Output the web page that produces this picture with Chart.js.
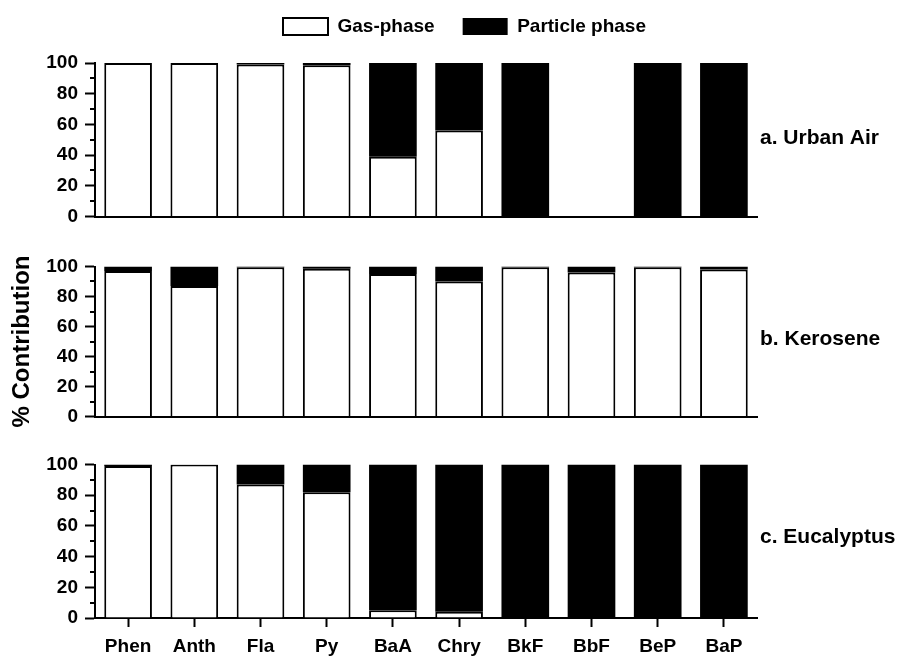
<!DOCTYPE html>
<html>
<head>
<meta charset="utf-8">
<script src="https://cdn.jsdelivr.net/npm/chart.js@4/dist/chart.umd.min.js"></script>
<style>
  html, body { margin: 0; padding: 0; background: #fff; width: 898px; height: 656px; overflow: hidden; position: relative; }
  canvas { position: absolute; left: 0; }
</style>
</head>
<body>
<canvas id="urban"></canvas>
<canvas id="kerosene"></canvas>
<canvas id="eucalyptus"></canvas>
<script>
// PAH compounds along the shared x axis
const compounds = ['Phen', 'Anth', 'Fla', 'Py', 'BaA', 'Chry', 'BkF', 'BbF', 'BeP', 'BaP'];

// Gas / particle split (% contribution) for each source
const urbanGas           = [100, 100, 99, 98.5, 39, 56, 0, null, 0, 0];
const urbanParticle      = [0, 0, 1, 1.5, 61, 44, 100, null, 100, 100];
const keroseneGas        = [97, 87, 99.5, 98.5, 95, 90, 99.5, 96, 99.5, 98];
const keroseneParticle   = [3, 13, 0.5, 1.5, 5, 10, 0.5, 4, 0.5, 2];
const eucalyptusGas      = [99, 100, 87, 82, 5, 4, 0, 0, 0, 0];
const eucalyptusParticle = [1, 0, 13, 18, 95, 96, 100, 100, 100, 100];

// Axis ticks
const yTicks = [0, 20, 40, 60, 80, 100];
const yMinorTicks = [10, 30, 50, 70, 90];

const FONT = "'Liberation Sans', Arial, Helvetica, sans-serif";
Chart.defaults.font.family = FONT;
Chart.defaults.color = '#000';

// Short unlabelled ticks between the labelled ones
const minorTicks = {
  id: 'minorTicks',
  afterDraw(chart) {
    const y = chart.scales.y, ctx = chart.ctx;
    ctx.save();
    ctx.strokeStyle = '#000';
    ctx.lineWidth = 2;
    yMinorTicks.forEach(v => {
      const py = Math.round(y.getPixelForValue(v));
      ctx.beginPath();
      ctx.moveTo(y.right - 5, py);
      ctx.lineTo(y.right, py);
      ctx.stroke();
    });
    ctx.restore();
  }
};

// Source name to the right of each panel
const panelLabel = {
  id: 'panelLabel',
  afterDraw(chart, args, opts) {
    if (!opts.text) return;
    const { ctx, chartArea } = chart;
    ctx.save();
    ctx.font = 'bold 21px ' + FONT;
    ctx.fillStyle = '#000';
    ctx.textBaseline = 'middle';
    ctx.textAlign = 'left';
    ctx.fillText(opts.text, chartArea.right + 3, (chartArea.top + chartArea.bottom) / 2 + opts.dy);
    ctx.restore();
  }
};

function makePanel(id, p) {
  const canvas = document.getElementById(id);
  canvas.width = p.width;
  canvas.height = p.height;
  canvas.style.top = p.top + 'px';

  const scales = {
    x: {
      type: 'category',
      stacked: true,
      offset: true,
      grid: p.showX
        ? { display: true, drawOnChartArea: false, drawTicks: true, offset: false, tickLength: 9, tickColor: '#000', tickWidth: 2 }
        : { display: false },
      border: { display: true, color: '#000', width: 2 },
      ticks: p.showX
        ? { display: true, maxRotation: 0, minRotation: 0, autoSkip: false, padding: 8, color: '#000', font: { size: 19, weight: 'bold' } }
        : { display: false },
      afterFit(s) { s.height = p.xHeight; }
    },
    y: {
      stacked: true,
      min: 0,
      max: 100,
      afterBuildTicks(s) { s.ticks = yTicks.map(v => ({ value: v })); },
      grid: { display: true, drawOnChartArea: false, drawTicks: true, tickLength: 10, tickColor: '#000', tickWidth: 2 },
      border: { display: true, color: '#000', width: 2 },
      ticks: { padding: 7, color: '#000', font: { size: 19, weight: 'bold', lineHeight: 1 } },
      title: p.yTitle
        ? { display: true, text: p.yTitle, color: '#000', font: { size: 24, weight: 'bold' }, padding: { top: 8, bottom: 0 } }
        : { display: false },
      afterFit(s) { s.width = 95; }
    }
  };
  if (p.rightGap) {
    scales.yR = {
      position: 'right',
      display: true,
      grid: { display: false },
      border: { display: false },
      ticks: { display: false },
      afterFit(s) { s.width = p.rightGap; }
    };
  }

  return new Chart(canvas, {
    type: 'bar',
    data: {
      labels: compounds,
      datasets: [
        { label: 'Gas-phase', data: p.gas, backgroundColor: '#fff', borderColor: '#000', borderWidth: 2, stack: 'phase' },
        { label: 'Particle phase', data: p.particle, backgroundColor: '#000', borderColor: '#000', borderWidth: 0, stack: 'phase' }
      ]
    },
    options: {
      responsive: false,
      animation: false,
      devicePixelRatio: 1,
      categoryPercentage: 1,
      barPercentage: 0.72,
      layout: { padding: p.padding },
      scales,
      plugins: {
        legend: p.legend
          ? {
              display: true,
              position: 'top',
              align: 'center',
              labels: { boxWidth: 45, boxHeight: 17, padding: 28, color: '#000', font: { size: 19, weight: 'bold' } }
            }
          : { display: false },
        title: p.legend
          ? { display: true, text: '', weight: 500, font: { size: 1, lineHeight: 1 }, padding: { top: 0, bottom: 16 } }
          : { display: false },
        tooltip: { enabled: false },
        panelLabel: { text: p.label, dy: p.labelDy }
      }
    },
    plugins: [minorTicks, panelLabel]
  });
}

makePanel('urban', {
  top: -11, width: 929, height: 244,
  padding: { top: 0, left: 0, right: 0, bottom: 14 },
  rightGap: 172, legend: true, showX: false, xHeight: 0,
  gas: urbanGas, particle: urbanParticle,
  label: 'a. Urban Air', labelDy: -2
});

makePanel('kerosene', {
  top: 250, width: 898, height: 183,
  padding: { top: 14, left: 0, right: 141, bottom: 14 },
  legend: false, showX: false, xHeight: 0, yTitle: '% Contribution',
  gas: keroseneGas, particle: keroseneParticle,
  label: 'b. Kerosene', labelDy: -2.5
});

makePanel('eucalyptus', {
  top: 448, width: 898, height: 208,
  padding: { top: 14, left: 0, right: 141, bottom: 0 },
  legend: false, showX: true, xHeight: 38,
  gas: eucalyptusGas, particle: eucalyptusParticle,
  label: 'c. Eucalyptus', labelDy: -4
});
</script>
</body>
</html>
